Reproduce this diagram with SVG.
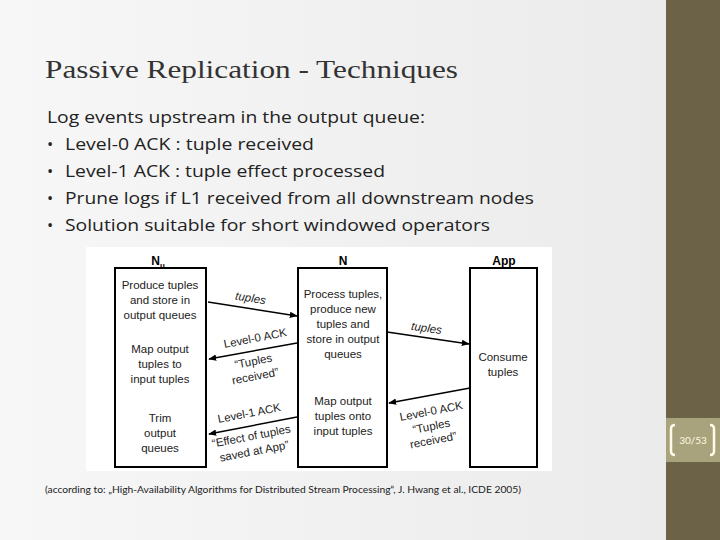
<svg xmlns="http://www.w3.org/2000/svg" width="720" height="540" viewBox="0 0 720 540">
<defs>
<linearGradient id="bg" x1="0" x2="1" y1="0" y2="0"><stop offset="0" stop-color="#f7f7f7"/><stop offset="1" stop-color="#eaeaea"/></linearGradient>
<marker id="ah" viewBox="0 0 10 10" refX="9" refY="5" markerWidth="8" markerHeight="8" markerUnits="userSpaceOnUse" orient="auto"><path d="M0,1 L10,5 L0,9 z" fill="#000"/></marker>
<style>
.t{font-family:"Open Sans",Lato,sans-serif;fill:#222}
.f{font-family:"Liberation Sans",Arial,sans-serif;font-size:11.5px;fill:#222;text-anchor:middle}
.h{font-family:"Liberation Sans",Arial,sans-serif;font-size:12px;font-weight:bold;text-anchor:middle}
.box{fill:#fff;stroke:#000;stroke-width:2}
.c{stroke:#000;stroke-width:1.5;fill:none;marker-end:url(#ah)}
</style>
</defs>
<rect width="720" height="540" fill="url(#bg)"/>
<rect x="666" y="0" width="54" height="540" fill="#6b6248"/>
<rect x="666" y="418" width="54" height="44" fill="#a8a37c"/>
<path d="M675,425 q-4,0 -4,4 v22 q0,4 4,4" fill="none" stroke="#fffbe6" stroke-width="2.5"/>
<path d="M710,425 q4,0 4,4 v22 q0,4 -4,4" fill="none" stroke="#fffbe6" stroke-width="2.5"/>
<text x="693" y="444" font-family="Lato,sans-serif" font-size="10" fill="#fffbe6" text-anchor="middle">30/53</text>
<text x="45" y="78" font-size="26" fill="#333" font-family="'Liberation Serif',serif" textLength="413" lengthAdjust="spacingAndGlyphs">Passive Replication - Techniques</text>
<g class="t" font-size="16.5">
<text x="47" y="123" textLength="378" lengthAdjust="spacingAndGlyphs">Log events upstream in the output queue:</text>
<text x="47" y="150">•</text><text x="65" y="150" textLength="249" lengthAdjust="spacingAndGlyphs">Level-0 ACK : tuple received</text>
<text x="47" y="177">•</text><text x="65" y="177" textLength="320" lengthAdjust="spacingAndGlyphs">Level-1 ACK : tuple effect processed</text>
<text x="47" y="204">•</text><text x="65" y="204" textLength="469" lengthAdjust="spacingAndGlyphs">Prune logs if L1 received from all downstream nodes</text>
<text x="47" y="231">•</text><text x="65" y="231" textLength="425" lengthAdjust="spacingAndGlyphs">Solution suitable for short windowed operators</text>
</g>
<rect x="86" y="247" width="466" height="224" fill="#fff"/>
<g id="Nu">
<rect class="box" x="115" y="268" width="91" height="199"/>
<text class="h" x="158" y="265">N<tspan font-size="8" dy="3">u</tspan></text>
<text class="f" x="160" y="289">Produce tuples</text><text class="f" x="160" y="304">and store in</text><text class="f" x="160" y="319">output queues</text>
<text class="f" x="160" y="353">Map output</text><text class="f" x="160" y="368">tuples to</text><text class="f" x="160" y="383">input tuples</text>
<text class="f" x="160" y="422">Trim</text><text class="f" x="160" y="437">output</text><text class="f" x="160" y="452">queues</text>
</g>
<g id="N">
<rect class="box" x="298" y="268" width="89" height="199"/>
<text class="h" x="343" y="265">N</text>
<text class="f" x="343" y="298">Process tuples,</text><text class="f" x="343" y="313">produce new</text><text class="f" x="343" y="328">tuples and</text><text class="f" x="343" y="343">store in output</text><text class="f" x="343" y="358">queues</text>
<text class="f" x="343" y="405">Map output</text><text class="f" x="343" y="420">tuples onto</text><text class="f" x="343" y="435">input tuples</text>
</g>
<g id="App">
<rect class="box" x="470" y="268" width="67" height="199"/>
<text class="h" x="504" y="265">App</text>
<text class="f" x="503" y="361">Consume</text><text class="f" x="503" y="376">tuples</text>
</g>
<g id="connectors">
<line class="c" x1="208" y1="302" x2="297" y2="316"/>
<line class="c" x1="297" y1="343" x2="209" y2="359"/>
<line class="c" x1="387" y1="332" x2="469" y2="344"/>
<line class="c" x1="297" y1="417" x2="209" y2="434"/>
<line class="c" x1="470" y1="388" x2="389" y2="403"/>
</g>
<g id="labels">
<text class="f" x="250" y="302" transform="rotate(9 250 302)" font-style="italic">tuples</text>
<text class="f" x="426" y="332" transform="rotate(8 426 332)" font-style="italic">tuples</text>
<text class="f" x="256" y="342" transform="rotate(-11 256 342)">Level-0 ACK</text>
<text class="f" x="254" y="365" transform="rotate(-11 254 365)">“Tuples</text>
<text class="f" x="256" y="380" transform="rotate(-11 256 380)">received”</text>
<text class="f" x="250" y="417" transform="rotate(-11 250 417)">Level-1 ACK</text>
<text class="f" x="252" y="440" transform="rotate(-11 252 440)">“Effect of tuples</text>
<text class="f" x="255" y="455" transform="rotate(-11 255 455)">saved at App”</text>
<text class="f" x="432" y="415" transform="rotate(-11 432 415)">Level-0 ACK</text>
<text class="f" x="432" y="430" transform="rotate(-11 432 430)">“Tuples</text>
<text class="f" x="434" y="444" transform="rotate(-11 434 444)">received”</text>
</g>
<text x="45" y="493" font-family="Lato,sans-serif" font-size="9" fill="#222" textLength="476" lengthAdjust="spacingAndGlyphs">(according to: „High-Availability Algorithms for Distributed Stream Processing“, J. Hwang et al., ICDE 2005)</text>
</svg>
